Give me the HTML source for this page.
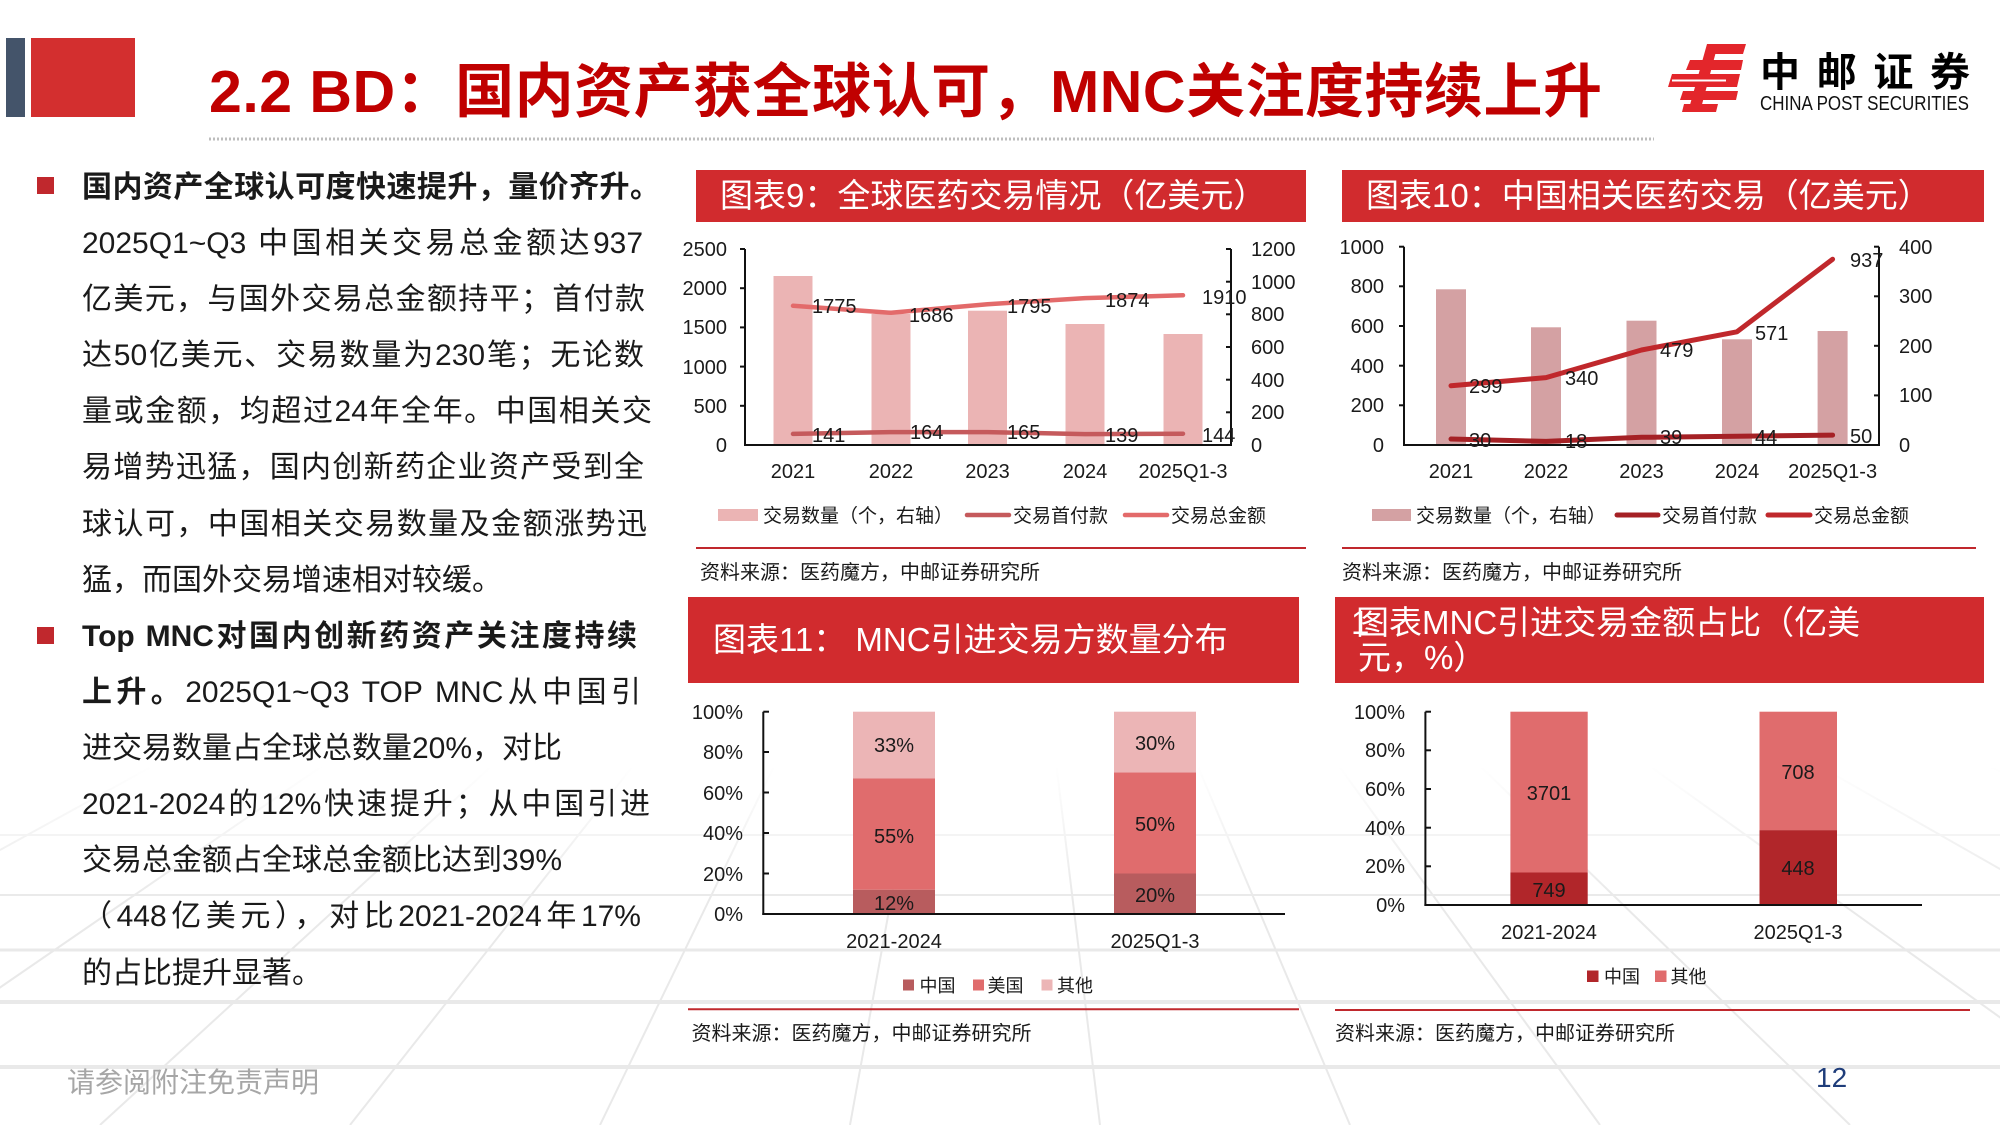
<!DOCTYPE html>
<html>
<head>
<meta charset="utf-8">
<style>
  html,body{margin:0;padding:0;background:#fff;}
  body{width:2000px;height:1125px;position:relative;overflow:hidden;font-family:"Liberation Sans","Noto Sans CJK SC",sans-serif;}
  .abs{position:absolute;}
  .para{position:absolute;font-size:30px;line-height:56.1px;color:#1a1a1a;}
  .ln{white-space:normal;height:56.1px;}
  .j{text-align:justify;text-align-last:justify;text-justify:inter-character;}
  .b{font-weight:700;}
  .bullet{position:absolute;width:17px;height:17px;background:#c0282d;}
  svg text{font-family:"Liberation Sans","Noto Sans CJK SC",sans-serif;}
</style>
</head>
<body>

<!-- background grid -->
<svg class="abs" style="left:0;top:0" width="2000" height="1125" viewBox="0 0 2000 1125">
  <defs>
    <linearGradient id="fade" x1="0" y1="0" x2="0" y2="1125" gradientUnits="userSpaceOnUse">
      <stop offset="0" stop-color="#fff" stop-opacity="0"/>
      <stop offset="0.68" stop-color="#fff" stop-opacity="0"/>
      <stop offset="0.80" stop-color="#fff" stop-opacity="1"/>
      <stop offset="1" stop-color="#fff" stop-opacity="1"/>
    </linearGradient>
    <mask id="m"><rect x="0" y="0" width="2000" height="1125" fill="url(#fade)"/></mask>
  </defs>
  <g mask="url(#m)" stroke="#e9e9e9" stroke-width="2" fill="none">
    <line x1="0" y1="835" x2="2000" y2="835"/>
    <line x1="0" y1="895" x2="2000" y2="895"/>
    <line x1="0" y1="950" x2="2000" y2="950" stroke-width="3"/>
    <line x1="0" y1="1002" x2="2000" y2="1002" stroke-width="4"/>
    <line x1="0" y1="1067" x2="2000" y2="1067" stroke-width="4"/>
    <line x1="1000" y1="300" x2="-1100" y2="1125"/>
    <line x1="1000" y1="300" x2="-800" y2="1125"/>
    <line x1="1000" y1="300" x2="-500" y2="1125"/>
    <line x1="1000" y1="300" x2="-200" y2="1125"/>
    <line x1="1000" y1="300" x2="100" y2="1125"/>
    <line x1="1000" y1="300" x2="350" y2="1125"/>
    <line x1="1000" y1="300" x2="600" y2="1125"/>
    <line x1="1000" y1="300" x2="850" y2="1125"/>
    <line x1="1000" y1="300" x2="1100" y2="1125"/>
    <line x1="1000" y1="300" x2="1350" y2="1125"/>
    <line x1="1000" y1="300" x2="1600" y2="1125"/>
    <line x1="1000" y1="300" x2="1850" y2="1125"/>
    <line x1="1000" y1="300" x2="2150" y2="1125"/>
    <line x1="1000" y1="300" x2="2450" y2="1125"/>
    <line x1="1000" y1="300" x2="2750" y2="1125"/>
    <line x1="1000" y1="300" x2="3050" y2="1125"/>
  </g>
</svg>

<!-- header -->
<div class="abs" style="left:6px;top:38px;width:19px;height:79px;background:#44546a;"></div>
<div class="abs" style="left:31px;top:38px;width:104px;height:79px;background:#d32f2f;"></div>
<div class="abs" style="left:209px;top:57px;font-size:59px;font-weight:700;color:#c00000;line-height:70px;white-space:nowrap;letter-spacing:0.5px;">2.2 BD：国内资产获全球认可，MNC关注度持续上升</div>

<svg class="abs" style="left:0;top:0" width="2000" height="1125" viewBox="0 0 2000 1125">
  <!-- dotted line under title -->
  <line x1="209" y1="139" x2="1654" y2="139" stroke="#bdbdbd" stroke-width="3" stroke-dasharray="2,2"/>

  <!-- logo -->
  <g fill="#e3262b">
    <polygon points="1715,44 1746,44 1743,54 1711,54"/>
    <polygon points="1690,60 1743,60 1741,70 1686,70"/>
    <polygon points="1672,74 1740,74 1737,87 1668,87"/>
    <polygon points="1683,91 1738,91 1736,100 1680,100"/>
    <polygon points="1707,44 1718,44 1700,112 1688,112"/>
    <polygon points="1684,104 1718,104 1716,112 1682,112"/>
  </g>
  <line x1="1672" y1="80.5" x2="1726" y2="80.5" stroke="#fff" stroke-width="2"/>
  <text x="1760" y="86" font-size="40" font-weight="700" fill="#000" textLength="210" lengthAdjust="spacing">中邮证券</text>
  <text x="1760" y="110" font-size="20" fill="#111" textLength="209" lengthAdjust="spacingAndGlyphs">CHINA POST SECURITIES</text>

  <!-- ================= Chart 9 ================= -->
  <rect x="696" y="170" width="610" height="52" fill="#d12b2e"/>
  <text x="720" y="207" font-size="33" fill="#fff">图表9：全球医药交易情况（亿美元）</text>
  <g fill="#ebb4b4">
    <rect x="773.5" y="276" width="39" height="169"/>
    <rect x="871.5" y="314" width="39" height="131"/>
    <rect x="968" y="310.7" width="39" height="134.3"/>
    <rect x="1065.5" y="324" width="39" height="121"/>
    <rect x="1163.5" y="334" width="39" height="111"/>
  </g>
  <polyline points="793,305.8 891,312.8 987.5,304.3 1085,298.1 1183,295.3" fill="none" stroke="#e36a6a" stroke-width="4.5" stroke-linejoin="round" stroke-linecap="round"/>
  <polyline points="793,433.9 891,432.1 987.5,432.1 1085,434.1 1183,433.7" fill="none" stroke="#c55a5c" stroke-width="4.5" stroke-linejoin="round" stroke-linecap="round"/>
  <g stroke="#111" stroke-width="2" fill="none">
    <line x1="745" y1="249" x2="745" y2="446"/>
    <line x1="1231" y1="249" x2="1231" y2="446"/>
    <line x1="744" y1="445" x2="1232" y2="445"/>
    <line x1="740" y1="249" x2="745" y2="249"/><line x1="740" y1="288.2" x2="745" y2="288.2"/><line x1="740" y1="327.4" x2="745" y2="327.4"/><line x1="740" y1="366.6" x2="745" y2="366.6"/><line x1="740" y1="405.8" x2="745" y2="405.8"/>
    <line x1="1226" y1="249" x2="1231" y2="249"/><line x1="1226" y1="281.7" x2="1231" y2="281.7"/><line x1="1226" y1="314.3" x2="1231" y2="314.3"/><line x1="1226" y1="347" x2="1231" y2="347"/><line x1="1226" y1="379.7" x2="1231" y2="379.7"/><line x1="1226" y1="412.3" x2="1231" y2="412.3"/>
  </g>
  <g font-size="20" fill="#1a1a1a" text-anchor="end">
    <text x="727" y="256">2500</text><text x="727" y="295">2000</text><text x="727" y="334">1500</text><text x="727" y="374">1000</text><text x="727" y="413">500</text><text x="727" y="452">0</text>
  </g>
  <g font-size="20" fill="#1a1a1a">
    <text x="1251" y="256">1200</text><text x="1251" y="289">1000</text><text x="1251" y="321">800</text><text x="1251" y="354">600</text><text x="1251" y="387">400</text><text x="1251" y="419">200</text><text x="1251" y="452">0</text>
    <text x="812" y="313">1775</text><text x="909" y="322">1686</text><text x="1007" y="313">1795</text><text x="1105" y="307">1874</text><text x="1202" y="304">1910</text>
    <text x="812" y="442">141</text><text x="910" y="439">164</text><text x="1007" y="439">165</text><text x="1105" y="442">139</text><text x="1202" y="442">144</text>
  </g>
  <g font-size="20" fill="#1a1a1a" text-anchor="middle">
    <text x="793" y="478">2021</text><text x="891" y="478">2022</text><text x="987.5" y="478">2023</text><text x="1085" y="478">2024</text><text x="1183" y="478">2025Q1-3</text>
  </g>
  <rect x="718" y="509" width="40" height="12" fill="#ebb4b4"/>
  <text x="763" y="522" font-size="19" fill="#1a1a1a">交易数量（个，右轴）</text>
  <line x1="967" y1="515" x2="1009" y2="515" stroke="#c55a5c" stroke-width="4.5" stroke-linecap="round"/>
  <text x="1013" y="522" font-size="19" fill="#1a1a1a">交易首付款</text>
  <line x1="1125" y1="515" x2="1167" y2="515" stroke="#e36a6a" stroke-width="4.5" stroke-linecap="round"/>
  <text x="1171" y="522" font-size="19" fill="#1a1a1a">交易总金额</text>
  <line x1="696" y1="548" x2="1306" y2="548" stroke="#c0282d" stroke-width="2"/>
  <text x="700" y="579" font-size="20" fill="#1a1a1a">资料来源：医药魔方，中邮证券研究所</text>

  <!-- ================= Chart 10 ================= -->
  <rect x="1342" y="170" width="642" height="52" fill="#d12b2e"/>
  <text x="1366" y="207" font-size="33" fill="#fff">图表10：中国相关医药交易（亿美元）</text>
  <g fill="#d4a1a3">
    <rect x="1436" y="289.3" width="30" height="155.7"/>
    <rect x="1531" y="327.3" width="30" height="117.7"/>
    <rect x="1626.5" y="320.7" width="30" height="124.3"/>
    <rect x="1722" y="339.3" width="30" height="105.7"/>
    <rect x="1817.6" y="331" width="30" height="114"/>
  </g>
  <polyline points="1451,385.7 1546,377.6 1641.5,350 1737,331.8 1832.6,259.2" fill="none" stroke="#c0282c" stroke-width="5" stroke-linejoin="round" stroke-linecap="round"/>
  <polyline points="1451,439 1546,441.4 1641.5,437.3 1737,436.3 1832.6,435.1" fill="none" stroke="#a52125" stroke-width="5" stroke-linejoin="round" stroke-linecap="round"/>
  <g stroke="#111" stroke-width="2" fill="none">
    <line x1="1404" y1="246.7" x2="1404" y2="446"/>
    <line x1="1879" y1="246.7" x2="1879" y2="446"/>
    <line x1="1403" y1="445" x2="1880" y2="445"/>
    <line x1="1399" y1="246.7" x2="1404" y2="246.7"/><line x1="1399" y1="286.3" x2="1404" y2="286.3"/><line x1="1399" y1="326" x2="1404" y2="326"/><line x1="1399" y1="365.7" x2="1404" y2="365.7"/><line x1="1399" y1="405.3" x2="1404" y2="405.3"/>
    <line x1="1874" y1="246.7" x2="1879" y2="246.7"/><line x1="1874" y1="296.3" x2="1879" y2="296.3"/><line x1="1874" y1="345.8" x2="1879" y2="345.8"/><line x1="1874" y1="395.4" x2="1879" y2="395.4"/>
  </g>
  <g font-size="20" fill="#1a1a1a" text-anchor="end">
    <text x="1384" y="254">1000</text><text x="1384" y="293">800</text><text x="1384" y="333">600</text><text x="1384" y="373">400</text><text x="1384" y="412">200</text><text x="1384" y="452">0</text>
  </g>
  <g font-size="20" fill="#1a1a1a">
    <text x="1899" y="254">400</text><text x="1899" y="303">300</text><text x="1899" y="353">200</text><text x="1899" y="402">100</text><text x="1899" y="452">0</text>
    <text x="1469" y="393">299</text><text x="1565" y="385">340</text><text x="1660" y="357">479</text><text x="1755" y="340">571</text><text x="1850" y="267">937</text>
    <text x="1469" y="447">30</text><text x="1565" y="448">18</text><text x="1660" y="444">39</text><text x="1755" y="444">44</text><text x="1850" y="443">50</text>
  </g>
  <g font-size="20" fill="#1a1a1a" text-anchor="middle">
    <text x="1451" y="478">2021</text><text x="1546" y="478">2022</text><text x="1641.5" y="478">2023</text><text x="1737" y="478">2024</text><text x="1832.6" y="478">2025Q1-3</text>
  </g>
  <rect x="1372" y="509" width="39" height="12" fill="#d4a1a3"/>
  <text x="1416" y="522" font-size="19" fill="#1a1a1a">交易数量（个，右轴）</text>
  <line x1="1617" y1="515" x2="1658" y2="515" stroke="#a52125" stroke-width="5" stroke-linecap="round"/>
  <text x="1662" y="522" font-size="19" fill="#1a1a1a">交易首付款</text>
  <line x1="1768" y1="515" x2="1810" y2="515" stroke="#c0282c" stroke-width="5" stroke-linecap="round"/>
  <text x="1814" y="522" font-size="19" fill="#1a1a1a">交易总金额</text>
  <line x1="1342" y1="548" x2="1976" y2="548" stroke="#c0282d" stroke-width="2"/>
  <text x="1342" y="579" font-size="20" fill="#1a1a1a">资料来源：医药魔方，中邮证券研究所</text>

  <!-- ================= Chart 11 ================= -->
  <rect x="688" y="597" width="611" height="86" fill="#d12b2e"/>
  <text x="713" y="651" font-size="33" fill="#fff">图表11： MNC引进交易方数量分布</text>
  <rect x="853" y="889.7" width="82" height="24.3" fill="#b85c5e"/>
  <rect x="853" y="778.5" width="82" height="111.2" fill="#e06c6d"/>
  <rect x="853" y="711.7" width="82" height="66.8" fill="#ecb5b6"/>
  <rect x="1114" y="873.5" width="82" height="40.5" fill="#b85c5e"/>
  <rect x="1114" y="772.4" width="82" height="101.1" fill="#e06c6d"/>
  <rect x="1114" y="711.7" width="82" height="60.7" fill="#ecb5b6"/>
  <g stroke="#111" stroke-width="2" fill="none">
    <line x1="763.3" y1="711.7" x2="763.3" y2="915"/>
    <line x1="762.3" y1="914" x2="1285" y2="914"/>
    <line x1="763.3" y1="711.7" x2="769" y2="711.7"/><line x1="763.3" y1="752" x2="769" y2="752"/><line x1="763.3" y1="792.5" x2="769" y2="792.5"/><line x1="763.3" y1="833" x2="769" y2="833"/><line x1="763.3" y1="873.5" x2="769" y2="873.5"/>
  </g>
  <g font-size="20" fill="#1a1a1a" text-anchor="end">
    <text x="743" y="719">100%</text><text x="743" y="759">80%</text><text x="743" y="800">60%</text><text x="743" y="840">40%</text><text x="743" y="881">20%</text><text x="743" y="921">0%</text>
  </g>
  <g font-size="20" fill="#1a1a1a" text-anchor="middle">
    <text x="894" y="752">33%</text><text x="894" y="843">55%</text><text x="894" y="910">12%</text>
    <text x="1155" y="750">30%</text><text x="1155" y="831">50%</text><text x="1155" y="902">20%</text>
    <text x="894" y="948">2021-2024</text><text x="1155" y="948">2025Q1-3</text>
  </g>
  <rect x="903" y="979.5" width="11" height="11" fill="#b85c5e"/>
  <text x="919.5" y="992" font-size="18" fill="#1a1a1a">中国</text>
  <rect x="973" y="979.5" width="11" height="11" fill="#e06c6d"/>
  <text x="987.5" y="992" font-size="18" fill="#1a1a1a">美国</text>
  <rect x="1041.5" y="979.5" width="11" height="11" fill="#ecb5b6"/>
  <text x="1057" y="992" font-size="18" fill="#1a1a1a">其他</text>
  <line x1="688" y1="1009.3" x2="1299" y2="1009.3" stroke="#c0282d" stroke-width="2"/>
  <text x="691.5" y="1040" font-size="20" fill="#1a1a1a">资料来源：医药魔方，中邮证券研究所</text>

  <!-- ================= Chart 12 ================= -->
  <rect x="1335" y="597" width="649" height="86" fill="#d12b2e"/>
  <text x="1351" y="634" font-size="33" fill="#fff">1</text>
  <text x="1356" y="634" font-size="33" fill="#fff">图表MNC引进交易金额占比（亿美</text>
  <text x="1358" y="669" font-size="33" fill="#fff">元，%）</text>
  <rect x="1510.4" y="872.5" width="77.3" height="32.5" fill="#b1262a"/>
  <rect x="1510.4" y="711.7" width="77.3" height="160.8" fill="#e06c6d"/>
  <rect x="1759.5" y="830.1" width="77.5" height="74.9" fill="#b1262a"/>
  <rect x="1759.5" y="711.7" width="77.5" height="118.4" fill="#e06c6d"/>
  <g stroke="#111" stroke-width="2" fill="none">
    <line x1="1425.4" y1="711.7" x2="1425.4" y2="906"/>
    <line x1="1424.4" y1="905" x2="1922" y2="905"/>
    <line x1="1425.4" y1="711.7" x2="1431" y2="711.7"/><line x1="1425.4" y1="750.3" x2="1431" y2="750.3"/><line x1="1425.4" y1="789" x2="1431" y2="789"/><line x1="1425.4" y1="827.7" x2="1431" y2="827.7"/><line x1="1425.4" y1="866.3" x2="1431" y2="866.3"/>
  </g>
  <g font-size="20" fill="#1a1a1a" text-anchor="end">
    <text x="1405" y="719">100%</text><text x="1405" y="757">80%</text><text x="1405" y="796">60%</text><text x="1405" y="835">40%</text><text x="1405" y="873">20%</text><text x="1405" y="912">0%</text>
  </g>
  <g font-size="20" fill="#1a1a1a" text-anchor="middle">
    <text x="1549" y="800">3701</text><text x="1549" y="897">749</text>
    <text x="1798" y="779">708</text><text x="1798" y="875">448</text>
    <text x="1549" y="939">2021-2024</text><text x="1798" y="939">2025Q1-3</text>
  </g>
  <rect x="1587" y="970.5" width="11.5" height="11.5" fill="#b1262a"/>
  <text x="1604" y="983" font-size="18" fill="#1a1a1a">中国</text>
  <rect x="1655" y="970.5" width="11.5" height="11.5" fill="#e06c6d"/>
  <text x="1670.5" y="983" font-size="18" fill="#1a1a1a">其他</text>
  <line x1="1335" y1="1010" x2="1970" y2="1010" stroke="#c0282d" stroke-width="2"/>
  <text x="1335" y="1040" font-size="20" fill="#1a1a1a">资料来源：医药魔方，中邮证券研究所</text>
</svg>

<!-- left text -->
<div class="bullet" style="left:37px;top:177px;"></div>
<div class="para" style="left:82px;top:160px;">
  <div class="ln j b" style="width:578px">国内资产全球认可度快速提升，量价齐升。</div>
  <div class="ln j" style="width:561px">2025Q1~Q3 中国相关交易总金额达937</div>
  <div class="ln j" style="width:563px">亿美元，与国外交易总金额持平；首付款</div>
  <div class="ln j" style="width:562px">达50亿美元、交易数量为230笔；无论数</div>
  <div class="ln j" style="width:570px">量或金额，均超过24年全年。中国相关交</div>
  <div class="ln j" style="width:562px">易增势迅猛，国内创新药企业资产受到全</div>
  <div class="ln j" style="width:565px">球认可，中国相关交易数量及金额涨势迅</div>
  <div class="ln" style="width:580px">猛，而国外交易增速相对较缓。</div>
</div>

<div class="bullet" style="left:37px;top:627px;"></div>
<div class="para" style="left:82px;top:609px;">
  <div class="ln j b" style="width:555px">Top MNC对国内创新药资产关注度持续</div>
  <div class="ln j" style="width:559px"><b>上升。</b>2025Q1~Q3 TOP MNC从中国引</div>
  <div class="ln" style="width:580px">进交易数量占全球总数量20%，对比</div>
  <div class="ln j" style="width:568px">2021-2024的12%快速提升；从中国引进</div>
  <div class="ln" style="width:580px">交易总金额占全球总金额比达到39%</div>
  <div class="ln j" style="width:559px">（448亿美元），对比2021-2024年17%</div>
  <div class="ln" style="width:580px">的占比提升显著。</div>
</div>

<!-- footer -->
<div class="abs" style="left:67px;top:1063px;font-size:28px;line-height:40px;color:#a6a6a6;white-space:nowrap;">请参阅附注免责声明</div>
<div class="abs" style="left:1816px;top:1058px;font-size:28px;line-height:40px;color:#1f3d7a;">12</div>

</body>
</html>
